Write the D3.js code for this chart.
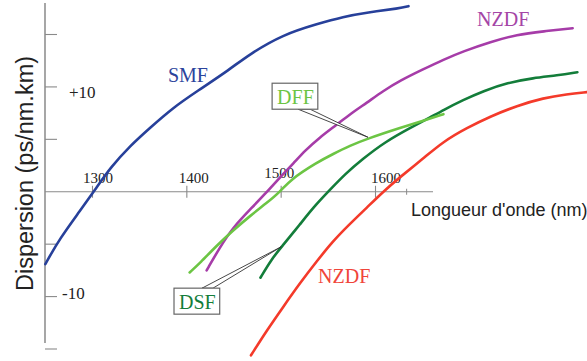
<!DOCTYPE html>
<html><head><meta charset="utf-8">
<script src="https://cdn.jsdelivr.net/npm/d3@7"></script>
<style>html,body{margin:0;padding:0;background:#fff;}svg{display:block;}</style>
</head><body>
<svg id="c" width="587" height="361"></svg>
<script>
// ---- data ----
const smfWl  = [1250,1265,1287,1305,1319,1340,1361,1385,1411,1446,1466,1502,1538,1566,1591,1626,1635];
const smfD   = [-6.9,-4.5,-1.8,0.5,2.3,4.4,6.1,8.0,9.6,11.7,13.1,15.0,16.0,16.7,17.1,17.5,17.7];
const nzdfPWl = [1421,1435,1449,1467,1483,1499,1513,1525,1541,1559,1573,1591,1608,1626,1651,1672,1693,1722,1750,1778,1809];
const nzdfPD  = [-7.5,-5.3,-3.4,-1.7,-0.2,1.4,2.7,3.9,5.2,6.4,7.4,8.5,9.6,10.6,11.7,12.6,13.4,14.3,15.0,15.3,15.6];
const dffWl  = [1403,1414,1432,1449,1467,1485,1499,1509,1538,1555,1573,1591,1626,1655,1672];
const dffD   = [-7.7,-6.8,-5.1,-3.7,-2.3,-1.05,0,1.1,2.8,3.6,4.4,5.05,6.1,6.9,7.4];
const dsfWl  = [1478,1490,1501,1520,1536,1553,1568,1586,1610,1637,1658,1672,1693,1714,1740,1767,1793,1814];
const dsfD   = [-8.2,-6.4,-5.2,-3.1,-1.3,0.3,1.7,3.1,4.75,6.1,7.1,7.8,8.75,9.6,10.4,10.85,11.1,11.4];
const nzdfRWl = [1468,1485,1502,1520,1538,1555,1573,1591,1608,1626,1651,1672,1697,1722,1750,1778,1803,1824];
const nzdfRD  = [-15.6,-13.2,-11.0,-8.7,-6.6,-4.7,-3.05,-1.5,0,1.4,3.2,4.8,6.1,7.2,8.2,8.95,9.3,9.5];

const xTicks = [1300,1400,1500,1600];
const xTickLabels = ["1300","1400","1500","1600"];
const yTicks = [-15,-10,-5,5,10,15];
const yTickLabelVals = [10,-10];
const yTickLabels = ["+10","-10"];

const xTitle = "Longueur d'onde (nm)";
const yTitle = "Dispersion (ps/nm.km)";

// ---- layout ----
const svg = d3.select("#c");
const x = d3.scaleLinear().domain([1300,1600]).range([92.5,375.5]);
const y = d3.scaleLinear().domain([-15,15]).range([349,34.5]);
const axisCol = "#8a8a8a";

// axes lines
svg.append("line").attr("x1",45).attr("x2",45).attr("y1",3).attr("y2",343)
  .attr("stroke","#777").attr("stroke-width",1.3);
svg.append("line").attr("x1",45).attr("x2",433).attr("y1",y(0)).attr("y2",y(0))
  .attr("stroke",axisCol).attr("stroke-width",1.2);

// y ticks
svg.selectAll(".yt").data(yTicks).enter().append("line")
  .attr("x1",45).attr("x2",57).attr("y1",d=>y(d)).attr("y2",d=>y(d))
  .attr("stroke",axisCol).attr("stroke-width",1.1);

// x ticks
svg.selectAll(".xt").data(xTicks).enter().append("line")
  .attr("x1",d=>x(d)).attr("x2",d=>x(d)).attr("y1",y(0)-6).attr("y2",y(0)+6)
  .attr("stroke",axisCol).attr("stroke-width",1.1);
svg.append("line").attr("x1",x(1633)).attr("x2",x(1633)).attr("y1",y(0)-3).attr("y2",y(0)+3)
  .attr("stroke",axisCol).attr("stroke-width",1);

// x tick labels
const xLabDx = [5.5,7,-2,10.5];
const xLabDy = [-8.5,-8.5,-13.5,-8.5];
svg.selectAll(".xl").data(xTicks).enter().append("text")
  .attr("x",(d,i)=>x(d)+xLabDx[i]).attr("y",(d,i)=>y(0)+xLabDy[i])
  .attr("text-anchor","middle")
  .attr("font-family","'Liberation Serif', serif").attr("font-size",15).attr("fill","#222")
  .text((d,i)=>xTickLabels[i]);

// y tick labels
const yLabX = [69,62];
const yLabDy = [10.7,2.3];
svg.selectAll(".yl").data(yTickLabelVals).enter().append("text")
  .attr("x",(d,i)=>yLabX[i]).attr("y",(d,i)=>y(d)+yLabDy[i])
  .attr("font-family","'Liberation Serif', serif").attr("font-size",17).attr("fill","#222")
  .text((d,i)=>yTickLabels[i]);

// titles
svg.append("text").attr("x",411).attr("y",216)
  .attr("font-family","'Liberation Sans', Arial, sans-serif").attr("font-size",18).attr("fill","#222")
  .text(xTitle);
svg.append("text").attr("transform","translate(33,173.5) rotate(-90)")
  .attr("text-anchor","middle")
  .attr("font-family","'Liberation Sans', Arial, sans-serif").attr("font-size",23.5).attr("fill","#222")
  .text(yTitle);

// curves
const series = [
  {wl:smfWl, d:smfD, color:"#27409a"},
  {wl:nzdfPWl, d:nzdfPD, color:"#a63ca8"},
  {wl:dsfWl, d:dsfD, color:"#137d3a"},
  {wl:dffWl, d:dffD, color:"#6cc544"},
  {wl:nzdfRWl, d:nzdfRD, color:"#f43a2a"}
];
const line = d3.line().x(p=>x(p[0])).y(p=>y(p[1])).curve(d3.curveBasis);
series.forEach(s=>{
  svg.append("path").attr("d",line(s.wl.map((w,i)=>[w,s.d[i]])))
    .attr("fill","none").attr("stroke",s.color).attr("stroke-width",2.6)
    .attr("stroke-linecap","round").attr("stroke-linejoin","round");
});

// labels
const serif = "'Liberation Serif', 'Times New Roman', serif";
function lab(txt, wl, d, col){
  return svg.append("text").attr("x",x(wl)).attr("y",y(d))
    .attr("font-family",serif).attr("font-size",20).attr("fill",col).text(txt);
}
lab("SMF",1380,10.45,"#2b449c");
lab("NZDF",1707.7,15.8,"#a445a6");
lab("NZDF",1539.1,-8.7,"#f0453a");

// callouts
function callout(txt, wl, d, col, tipWl, tipD, below){
  const tx = x(wl), ty = y(d);
  const t = svg.append("text").attr("x",tx).attr("y",ty)
    .attr("font-family",serif).attr("font-size",20).attr("fill",col).text(txt);
  const w = t.node().getComputedTextLength();
  const bx = tx-5, by = ty-21, bw = w+9, bh = 26;
  const tipX = x(tipWl), tipY = y(tipD);
  const edgeY = below ? by+bh : by;
  const dx1 = below ? 21 : 23, dx2 = below ? 33 : 34;
  svg.append("polygon")
    .attr("points",[[tx+dx1,edgeY],[tipX,tipY],[tx+dx2,edgeY]].map(p=>p.join(",")).join(" "))
    .attr("fill","#fff").attr("stroke","#333").attr("stroke-width",0.9);
  svg.append("rect").attr("x",bx).attr("y",by).attr("width",bw).attr("height",bh)
    .attr("fill","#fff").attr("stroke","#666").attr("stroke-width",1.2);
  t.raise();
}
callout("DFF",1495.7,8.35,"#6cc544",1592,5.2,true);
callout("DSF",1391.7,-11.2,"#137d3a",1500,-5.25,false);
</script>
</body></html>
